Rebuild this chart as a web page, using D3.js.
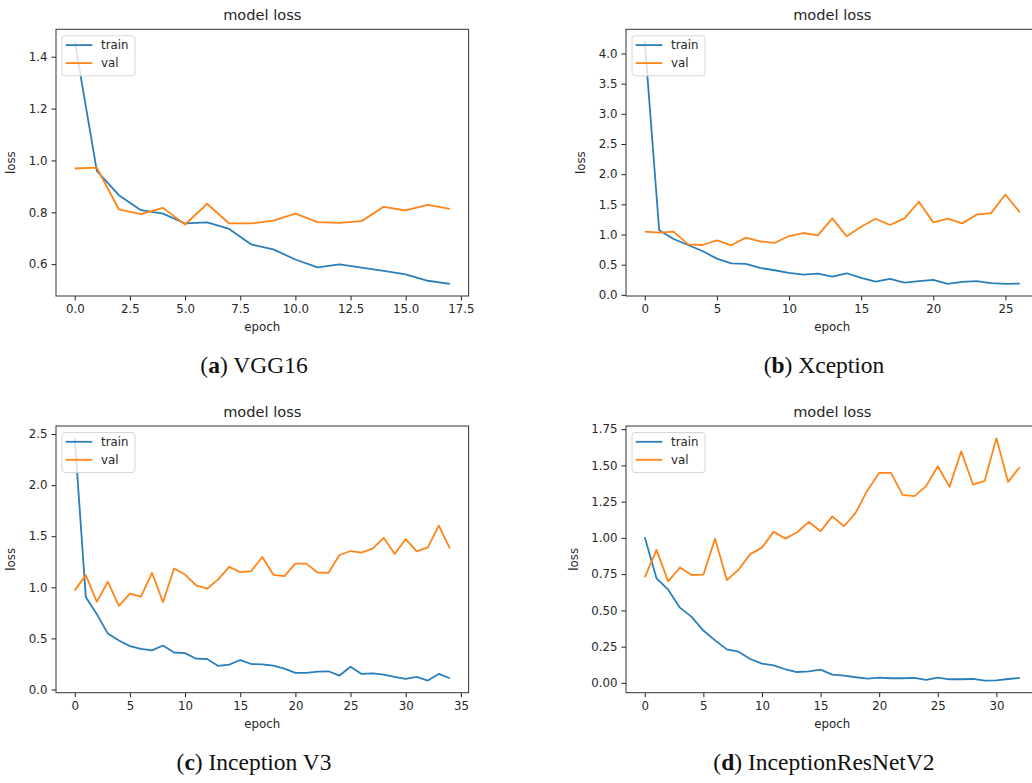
<!DOCTYPE html>
<html>
<head>
<meta charset="utf-8">
<script src="https://cdn.jsdelivr.net/npm/d3@7"></script>
<style>
  body { margin: 0; background: #fff; }
  svg text { font-family: "DejaVu Sans", sans-serif; fill: #262626; }
  .caption { font-family: "Liberation Serif", "DejaVu Serif", serif; fill: #111; }
</style>
</head>
<body>
<div id="chart"></div>
<script>
// (a) VGG16
var vggTrain = [1.459, 0.960, 0.866, 0.808, 0.795, 0.757, 0.761, 0.736, 0.676, 0.657,
  0.618, 0.588, 0.599, 0.587, 0.574, 0.561, 0.536, 0.524];
var vggVal = [0.969, 0.972, 0.811, 0.793, 0.817, 0.753, 0.833, 0.757, 0.757, 0.768,
  0.795, 0.762, 0.759, 0.766, 0.821, 0.807, 0.829, 0.813];
var vggXTicks = [0, 2.5, 5, 7.5, 10, 12.5, 15, 17.5];
var vggYTicks = [0.6, 0.8, 1.0, 1.2, 1.4];

// (b) Xception
var xcpTrain = [4.20, 1.07, 0.926, 0.826, 0.727, 0.600, 0.523, 0.512, 0.446, 0.408,
  0.364, 0.336, 0.353, 0.303, 0.358, 0.281, 0.220, 0.264, 0.204, 0.226,
  0.248, 0.182, 0.215, 0.226, 0.193, 0.182, 0.187];
var xcpVal = [1.047, 1.030, 1.047, 0.837, 0.826, 0.904, 0.821, 0.948, 0.887, 0.860,
  0.975, 1.025, 0.986, 1.267, 0.970, 1.130, 1.262, 1.157, 1.267, 1.543,
  1.201, 1.262, 1.185, 1.328, 1.355, 1.664, 1.366];
var xcpXTicks = [0, 5, 10, 15, 20, 25];
var xcpYTicks = [0, 0.5, 1.0, 1.5, 2.0, 2.5, 3.0, 3.5, 4.0];

// (c) Inception V3
var incTrain = [2.46, 0.906, 0.737, 0.547, 0.479, 0.424, 0.398, 0.382, 0.430, 0.362,
  0.356, 0.301, 0.298, 0.230, 0.243, 0.288, 0.249, 0.246, 0.233, 0.204,
  0.162, 0.162, 0.175, 0.178, 0.136, 0.223, 0.152, 0.158, 0.146, 0.123,
  0.103, 0.123, 0.087, 0.152, 0.110];
var incVal = [0.970, 1.119, 0.857, 1.054, 0.818, 0.938, 0.909, 1.142, 0.854, 1.184,
  1.125, 1.019, 0.986, 1.077, 1.200, 1.148, 1.158, 1.297, 1.122, 1.109,
  1.232, 1.232, 1.145, 1.142, 1.316, 1.355, 1.339, 1.378, 1.484, 1.326,
  1.472, 1.352, 1.391, 1.604, 1.381];
var incXTicks = [0, 5, 10, 15, 20, 25, 30, 35];
var incYTicks = [0, 0.5, 1.0, 1.5, 2.0, 2.5];

// (d) InceptionResNetV2
var irnTrain = [1.004, 0.721, 0.643, 0.519, 0.455, 0.361, 0.293, 0.231, 0.215, 0.165,
  0.133, 0.121, 0.094, 0.075, 0.080, 0.092, 0.057, 0.050, 0.039, 0.030,
  0.037, 0.032, 0.032, 0.034, 0.021, 0.037, 0.025, 0.025, 0.027, 0.016,
  0.018, 0.027, 0.034];
var irnVal = [0.728, 0.917, 0.700, 0.796, 0.744, 0.746, 0.995, 0.709, 0.780, 0.888,
  0.933, 1.043, 0.995, 1.039, 1.110, 1.046, 1.148, 1.080, 1.174, 1.329,
  1.448, 1.448, 1.297, 1.288, 1.357, 1.494, 1.352, 1.597, 1.368, 1.393,
  1.688, 1.386, 1.489];
var irnXTicks = [0, 5, 10, 15, 20, 25, 30];
var irnYTicks = [0, 0.25, 0.5, 0.75, 1.0, 1.25, 1.5, 1.75];

var captionLetters = ['a', 'b', 'c', 'd'];
var captionNames = ['VGG16', 'Xception', 'Inception V3', 'InceptionResNetV2'];

var panels = [
  { train: vggTrain, val: vggVal, xt: vggXTicks, yt: vggYTicks, xf: '.1f', yf: '.1f', left: 56, top: 29.3 },
  { train: xcpTrain, val: xcpVal, xt: xcpXTicks, yt: xcpYTicks, xf: 'd', yf: '.1f', left: 626, top: 29.3 },
  { train: incTrain, val: incVal, xt: incXTicks, yt: incYTicks, xf: 'd', yf: '.1f', left: 56, top: 426 },
  { train: irnTrain, val: irnVal, xt: irnXTicks, yt: irnYTicks, xf: 'd', yf: '.2f', left: 626, top: 426 }
];

var plotW = 412.6;
var plotH = 266.7;
var blue = '#2a7fba';
var orange = '#ff8519';

var svg = d3.select('#chart').append('svg')
  .attr('width', 1032)
  .attr('height', 783);

svg.append('rect').attr('width', 1032).attr('height', 783).attr('fill', '#fff');

// matplotlib style: 5% padding around the data range
function padded(lo, hi) {
  var r = hi - lo;
  return [lo - 0.05 * r, hi + 0.05 * r];
}

panels.forEach(function (p, k) {
  var g = svg.append('g').attr('transform', 'translate(' + p.left + ',' + p.top + ')');
  var n = p.train.length;
  var all = p.train.concat(p.val);

  var x = d3.scaleLinear().domain(padded(0, n - 1)).range([0, plotW]);
  var y = d3.scaleLinear().domain(padded(d3.min(all), d3.max(all))).range([plotH, 0]);

  var xAxis = d3.axisBottom(x).tickValues(p.xt).tickFormat(d3.format(p.xf)).tickSizeOuter(0).tickSize(4.5).tickPadding(4);
  var yAxis = d3.axisLeft(y).tickValues(p.yt).tickFormat(d3.format(p.yf)).tickSizeOuter(0).tickSize(4.5).tickPadding(4);

  var gx = g.append('g').attr('transform', 'translate(0,' + plotH + ')').call(xAxis);
  var gy = g.append('g').call(yAxis);
  [gx, gy].forEach(function (a) {
    a.select('.domain').remove();
    a.selectAll('line').attr('stroke', '#222').attr('stroke-width', 1);
    a.selectAll('text').attr('font-size', 11.8).attr('fill', '#262626')
      .attr('font-family', '"DejaVu Sans", sans-serif');
  });

  var line = d3.line()
    .x(function (d, i) { return x(i); })
    .y(function (d) { return y(d); });

  g.append('path').datum(p.train)
    .attr('d', line).attr('fill', 'none')
    .attr('stroke', blue).attr('stroke-width', 1.8).attr('stroke-linejoin', 'round');
  g.append('path').datum(p.val)
    .attr('d', line).attr('fill', 'none')
    .attr('stroke', orange).attr('stroke-width', 1.8).attr('stroke-linejoin', 'round');

  // frame
  g.append('rect').attr('width', plotW).attr('height', plotH)
    .attr('fill', 'none').attr('stroke', '#333').attr('stroke-width', 1);

  // legend
  var lg = g.append('g').attr('transform', 'translate(6,6.5)');
  lg.append('rect').attr('width', 73).attr('height', 40).attr('rx', 3)
    .attr('fill', '#fff').attr('fill-opacity', 0.8)
    .attr('stroke', '#d6d6d6').attr('stroke-width', 1);
  [['train', blue], ['val', orange]].forEach(function (e, i) {
    var ly = 9.3 + i * 18;
    lg.append('line').attr('x1', 3.7).attr('x2', 30.3).attr('y1', ly).attr('y2', ly)
      .attr('stroke', e[1]).attr('stroke-width', 1.8);
    lg.append('text').attr('x', 39).attr('y', ly + 4.2)
      .attr('font-size', 11.8).text(e[0]);
  });

  // title & labels
  g.append('text').attr('x', plotW / 2).attr('y', -9)
    .attr('text-anchor', 'middle').attr('font-size', 14.6).text('model loss');
  g.append('text').attr('x', plotW / 2).attr('y', plotH + 35)
    .attr('text-anchor', 'middle').attr('font-size', 11.8).text('epoch');
  var labX = p.yf === '.2f' ? -48 : -41;
  g.append('text')
    .attr('transform', 'translate(' + labX + ',' + (plotH / 2) + ') rotate(-90)')
    .attr('text-anchor', 'middle').attr('font-size', 11.8).text('loss');

  // caption below the panel
  var cx = k % 2 === 0 ? 254 : 824;
  var cy = p.top + plotH + 77;
  var cap = svg.append('text').attr('class', 'caption')
    .attr('x', cx).attr('y', cy).attr('text-anchor', 'middle').attr('font-size', 23.5);
  cap.append('tspan').text('(');
  cap.append('tspan').attr('font-weight', 'bold').text(captionLetters[k]);
  cap.append('tspan').text(') ' + captionNames[k]);
});
</script>
</body>
</html>
